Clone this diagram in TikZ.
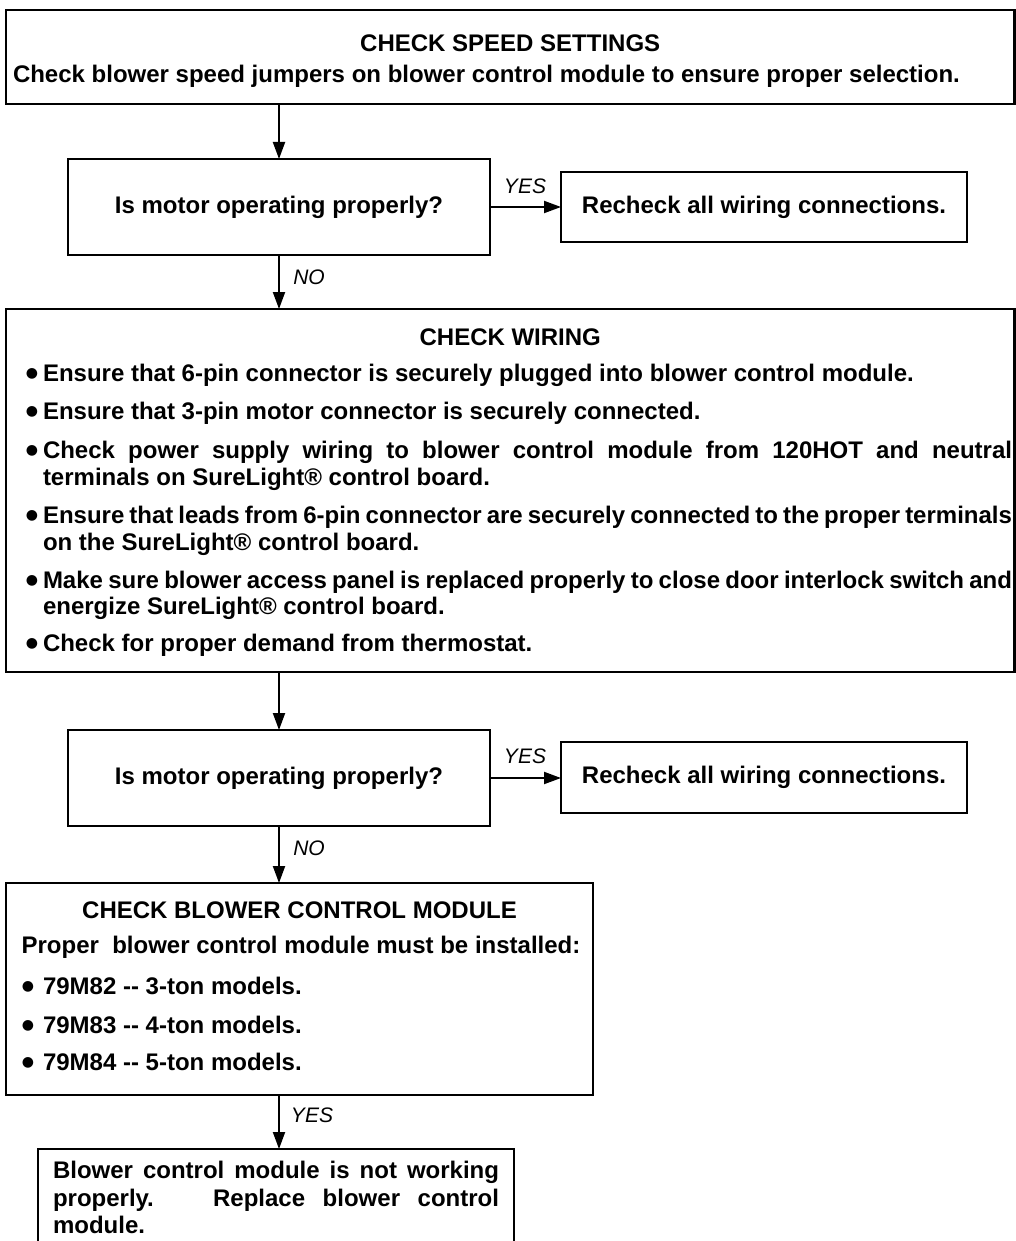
\documentclass[tikz,border=0pt]{standalone}
\usepackage{fontspec}
\setmainfont{Liberation Sans}
\newfontfamily\dejavu{DejaVu Sans}
\usetikzlibrary{arrows.meta}
\begin{document}
\begin{tikzpicture}[x=1pt,y=-1pt,
  box/.style={draw, line width=2.5pt, inner sep=0pt, outer sep=0pt},
  txt/.style={inner sep=0pt, outer sep=0pt, font=\fontsize{24}{27.5}\selectfont\bfseries},
  lbl/.style={inner sep=0pt, outer sep=0pt, font=\fontsize{21}{24}\selectfont\itshape},
  arr/.style={line width=2pt, -{Triangle[length=17pt,width=12pt]}},
  bul/.style={inner sep=0pt, outer sep=0pt, anchor=center, font=\dejavu\fontsize{14}{14}\selectfont},
  ln/.style={txt, anchor=base west}]
\useasboundingbox (0,0) rectangle (1016,1241);
\clip (0,0) rectangle (1016,1241);
\fill[white] (0,0) rectangle (1016,1241);
% top box
\node[box, minimum width=1008.5, minimum height=94] (top) at (510.25,57) {};
\node[txt, anchor=base] (topt) at (510.25,52) {CHECK SPEED SETTINGS};
\node[ln] (topl) at (13,83) {Check blower speed jumpers on blower control module to ensure proper selection.};
% first question
\node[box, txt, minimum width=422, minimum height=96] (q1) at (279,207) {Is motor operating properly?};
\node[box, txt, minimum width=406, minimum height=70] (r1) at (764,207) {Recheck all wiring connections.};
\node[lbl] (y1) at (525,186) {YES};
% wiring box
\node[box, minimum width=1008.5, minimum height=363] (wire) at (510.25,490.5) {};
\node[txt, anchor=base] (wt) at (510.25,345.5) {CHECK WIRING};
\node[bul] (wb1) at (32,374) {●};
\node[ln] (w1) at (43,381.5) {Ensure that 6-pin connector is securely plugged into blower control module.};
\node[bul] (wb2) at (32,412) {●};
\node[ln] (w2) at (43,419.5) {Ensure that 3-pin motor connector is securely connected.};
\node[bul] (wb3) at (32,451) {●};
\node[ln] (w3a) at (43,458.5) {\makebox[969pt][s]{Check power supply wiring to blower control module from 120HOT and neutral}};
\node[ln] (w3b) at (43,485.5) {terminals on SureLight® control board.};
\node[bul] (wb4) at (32,516) {●};
\node[ln] (w4a) at (43,523.5) {\makebox[969pt][s]{Ensure that leads from 6-pin connector are securely connected to the proper terminals}};
\node[ln] (w4b) at (43,550.5) {on the SureLight® control board.};
\node[bul] (wb5) at (32,581) {●};
\node[ln] (w5a) at (43,588.5) {\makebox[969pt][s]{Make sure blower access panel is replaced properly to close door interlock switch and}};
\node[ln] (w5b) at (43,614.5) {energize SureLight® control board.};
\node[bul] (wb6) at (32,644) {●};
\node[ln] (w6) at (43,651.5) {Check for proper demand from thermostat.};
% second question
\node[box, txt, minimum width=422, minimum height=96] (q2) at (279,778) {Is motor operating properly?};
\node[box, txt, minimum width=406, minimum height=71] (r2) at (764,777.5) {Recheck all wiring connections.};
\node[lbl] (y2) at (525,756) {YES};
% module box
\node[box, minimum width=587, minimum height=212] (mod) at (299.5,989) {};
\node[txt, anchor=base] (mt) at (299.5,918.5) {CHECK BLOWER CONTROL MODULE};
\node[txt, anchor=base] (mp) at (301,953.5) {Proper \ blower control module must be installed:};
\node[bul] (mb1) at (28,987) {●};
\node[ln] (m1) at (43,994.5) {79M82 -{}- 3-ton models.};
\node[bul] (mb2) at (28,1026) {●};
\node[ln] (m2) at (43,1033.5) {79M83 -{}- 4-ton models.};
\node[bul] (mb3) at (28,1063) {●};
\node[ln] (m3) at (43,1070.5) {79M84 -{}- 5-ton models.};
% final box
\node[box, minimum width=476, minimum height=151] (fin) at (276,1224.5) {};
\node[ln] (f1) at (53,1178.5) {\makebox[446pt][s]{Blower control module is not working}};
\node[ln] (f2) at (53,1206) {\makebox[446pt][s]{properly. \ Replace blower control}};
\node[ln] (f3) at (53,1233) {module.};
% labels
\node[lbl] (n1) at (309,277) {NO};
\node[lbl] (n2) at (309,848) {NO};
\node[lbl] (y3) at (312,1115) {YES};
% connectors
\coordinate (m0) at (mod.south -| q2.south);
\draw[arr] (top.south -| q1.north) -- (q1.north);
\draw[arr] (q1.east) -- (r1.west);
\draw[arr] (q1.south) -- (q1.south |- wire.north);
\draw[arr] (wire.south -| q2.north) -- (q2.north);
\draw[arr] (q2.east) -- (q2.east -| r2.west);
\draw[arr] (q2.south) -- (q2.south |- mod.north);
\draw[arr] (m0) -- (m0 |- fin.north);
\end{tikzpicture}
\end{document}
